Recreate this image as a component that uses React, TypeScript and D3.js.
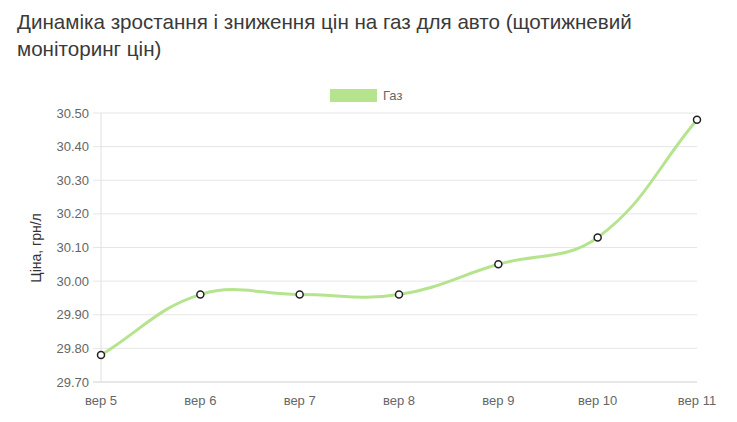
import React from "react";
import * as d3 from "d3";

const categories = ["вер 5", "вер 6", "вер 7", "вер 8", "вер 9", "вер 10", "вер 11"];
const gasPrices = [29.78, 29.96, 29.96, 29.96, 30.05, 30.13, 30.48];
const yTicks = [29.7, 29.8, 29.9, 30.0, 30.1, 30.2, 30.3, 30.4, 30.5];
const titleLines = ["Динаміка зростання і зниження цін на газ для авто (щотижневий", "моніторинг цін)"];
const seriesName = "Газ";
const yAxisTitle = "Ціна, грн/л";

const W = 737;
const H = 422;
const left = 101;
const right = 697;
const top = 113;
const bottom = 382;
const font = "'Liberation Sans', Arial, sans-serif";

function splinePath(pts: [number, number][], t: number) {
  const p = d3.path();
  const n = pts.length;
  const cps: { prev: [number, number]; next: [number, number] }[] = [];
  for (let i = 0; i < n; i++) {
    const prev = pts[Math.max(0, i - 1)];
    const cur = pts[i];
    const next = pts[Math.min(n - 1, i + 1)];
    const d01 = Math.hypot(cur[0] - prev[0], cur[1] - prev[1]);
    const d12 = Math.hypot(next[0] - cur[0], next[1] - cur[1]);
    let s01 = d01 / (d01 + d12);
    let s12 = d12 / (d01 + d12);
    if (isNaN(s01)) s01 = 0;
    if (isNaN(s12)) s12 = 0;
    const fa = t * s01;
    const fb = t * s12;
    cps.push({
      prev: [cur[0] - fa * (next[0] - prev[0]), Math.min(bottom, Math.max(top, cur[1] - fa * (next[1] - prev[1])))],
      next: [cur[0] + fb * (next[0] - prev[0]), Math.min(bottom, Math.max(top, cur[1] + fb * (next[1] - prev[1])))],
    });
  }
  p.moveTo(pts[0][0], pts[0][1]);
  for (let i = 1; i < n; i++) {
    const a = cps[i - 1].next;
    const b = cps[i].prev;
    p.bezierCurveTo(a[0], a[1], b[0], b[1], pts[i][0], pts[i][1]);
  }
  return p.toString();
}

export default function App() {
  const x = d3.scalePoint<string>().domain(categories).range([left, right]);
  const y = d3.scaleLinear().domain([29.7, 30.5]).range([bottom, top]);
  const pts: [number, number][] = categories.map((c, i) => [x(c) as number, y(gasPrices[i])]);
  const lineColor = "#b6e48e";

  return (
    <svg width={W} height={H} style={{ position: "absolute", left: 0, top: 0, background: "#fff" }}>
      {titleLines.map((t, i) => (
        <text key={i} x={17} y={29 + i * 27} fontFamily={font} fontSize={20.6} fill="#3a3a3a">
          {t}
        </text>
      ))}
      <rect x={330} y={89} width={47} height={13} fill={lineColor} />
      <text x={383} y={100} fontFamily={font} fontSize={13} fill="#666">
        {seriesName}
      </text>
      {yTicks.map((v) => (
        <g key={v}>
          <line x1={93} x2={right} y1={y(v)} y2={y(v)} stroke="#e6e6e6" strokeWidth={1} />
          <text x={89} y={y(v) + 4.5} textAnchor="end" fontFamily={font} fontSize={13} fill="#666">
            {v.toFixed(2)}
          </text>
        </g>
      ))}
      <line x1={left} x2={left} y1={top} y2={bottom} stroke="#e0e0e0" strokeWidth={1} />
      <line x1={93} x2={right} y1={bottom} y2={bottom} stroke="#dcdcdc" strokeWidth={1} />
      {categories.map((c) => (
        <text key={c} x={x(c)} y={405} textAnchor="middle" fontFamily={font} fontSize={13} fill="#666">
          {c}
        </text>
      ))}
      <text
        transform={`translate(41,248) rotate(-90)`}
        textAnchor="middle"
        fontFamily={font}
        fontSize={14}
        fill="#333"
      >
        {yAxisTitle}
      </text>
      <path d={splinePath(pts, 0.4)} fill="none" stroke={lineColor} strokeWidth={3} />
      {pts.map((p, i) => (
        <circle key={i} cx={p[0]} cy={p[1]} r={3.5} fill="#fff" stroke="#222" strokeWidth={1.5} />
      ))}
    </svg>
  );
}
